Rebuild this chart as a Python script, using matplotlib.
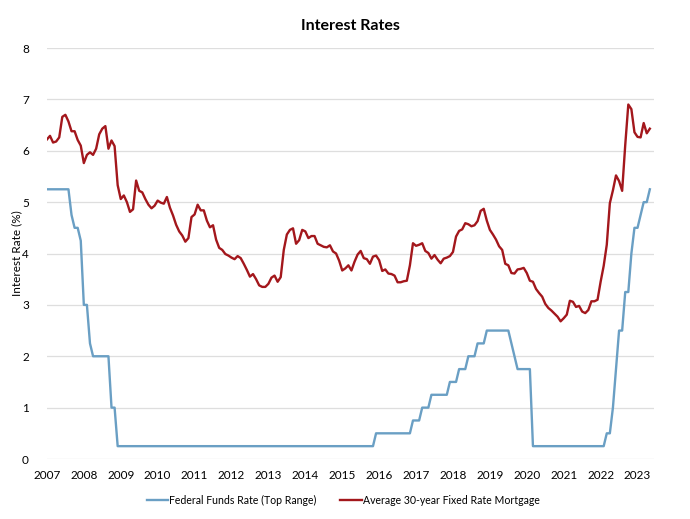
import numpy as np
import matplotlib
matplotlib.use("Agg")
import matplotlib.pyplot as plt

plt.rcParams['font.family'] = ['Lato', 'DejaVu Sans']

# monthly values, Jan 2007 .. May 2023
fed_funds = (
    [5.25] * 8 + [4.75, 4.5, 4.5, 4.25]                                   # 2007
    + [3.0, 3.0, 2.25, 2.0, 2.0, 2.0, 2.0, 2.0, 2.0, 1.0, 1.0, 0.25]      # 2008
    + [0.25] * 12 * 6                                                     # 2009-2014
    + [0.25] * 11 + [0.5]                                                 # 2015
    + [0.5] * 11 + [0.75]                                                 # 2016
    + [0.75, 0.75, 1.0, 1.0, 1.0, 1.25, 1.25, 1.25, 1.25, 1.25, 1.25, 1.5]  # 2017
    + [1.5, 1.5, 1.75, 1.75, 1.75, 2.0, 2.0, 2.0, 2.25, 2.25, 2.25, 2.5]  # 2018
    + [2.5, 2.5, 2.5, 2.5, 2.5, 2.5, 2.5, 2.25, 2.0, 1.75, 1.75, 1.75]   # 2019
    + [1.75, 1.75] + [0.25] * 10                                          # 2020
    + [0.25] * 12                                                         # 2021
    + [0.25, 0.25, 0.5, 0.5, 1.0, 1.75, 2.5, 2.5, 3.25, 3.25, 4.0, 4.5]   # 2022
    + [4.5, 4.75, 5.0, 5.0, 5.25]                                         # 2023
)

mortgage = [
    6.22, 6.29, 6.16, 6.18, 6.26, 6.66, 6.70, 6.57, 6.38, 6.38, 6.21, 6.10,
    5.76, 5.92, 5.97, 5.92, 6.04, 6.32, 6.43, 6.48, 6.04, 6.20, 6.09, 5.33,
    5.06, 5.13, 5.00, 4.81, 4.86, 5.42, 5.22, 5.19, 5.06, 4.95, 4.88, 4.93,
    5.03, 4.99, 4.97, 5.10, 4.89, 4.74, 4.56, 4.43, 4.35, 4.23, 4.30, 4.71,
    4.76, 4.95, 4.84, 4.84, 4.64, 4.51, 4.55, 4.27, 4.11, 4.07, 3.99, 3.96,
    3.92, 3.89, 3.95, 3.91, 3.80, 3.68, 3.55, 3.60, 3.50, 3.38, 3.35, 3.35,
    3.41, 3.53, 3.57, 3.45, 3.54, 4.07, 4.37, 4.46, 4.49, 4.19, 4.26, 4.46,
    4.43, 4.30, 4.34, 4.34, 4.19, 4.16, 4.13, 4.12, 4.16, 4.04, 4.00, 3.86,
    3.67, 3.71, 3.77, 3.67, 3.84, 3.98, 4.05, 3.91, 3.89, 3.80, 3.94, 3.96,
    3.87, 3.66, 3.69, 3.61, 3.60, 3.57, 3.44, 3.44, 3.46, 3.47, 3.77, 4.20,
    4.15, 4.17, 4.20, 4.05, 4.01, 3.90, 3.97, 3.88, 3.81, 3.90, 3.92, 3.95,
    4.03, 4.33, 4.44, 4.47, 4.59, 4.57, 4.53, 4.55, 4.63, 4.83, 4.87, 4.64,
    4.46, 4.37, 4.27, 4.14, 4.07, 3.80, 3.77, 3.62, 3.61, 3.69, 3.70, 3.72,
    3.62, 3.47, 3.45, 3.31, 3.23, 3.16, 3.02, 2.94, 2.89, 2.83, 2.77, 2.68,
    2.74, 2.81, 3.08, 3.06, 2.96, 2.98, 2.87, 2.84, 2.90, 3.07, 3.07, 3.10,
    3.45, 3.76, 4.17, 4.98, 5.23, 5.52, 5.41, 5.22, 6.11, 6.90, 6.81, 6.36,
    6.27, 6.26, 6.54, 6.34, 6.43,
]

years = list(range(2007, 2024))
x = 2007 + np.arange(len(mortgage)) / 12

fig = plt.figure(figsize=(6.9, 5.19), dpi=100)
ax = fig.add_axes([0.068, 0.1156, 0.8795, 0.7919])

ax.plot(x, fed_funds, color='#6a9fc4', lw=1.7, label='Federal Funds Rate (Top Range)')
ax.plot(x, mortgage, color='#a3171c', lw=1.7, label='Average 30-year Fixed Rate Mortgage')

ax.set_xlim(2007, 2023.44)
ax.set_ylim(0, 8)
ax.set_xticks(years)
ax.set_yticks(range(0, 9))
ax.tick_params(length=0, labelsize=8.5)
ax.tick_params(axis='y', pad=13)
ax.tick_params(axis='x', pad=8)
ax.grid(axis='y', color='#dedede', lw=0.9)
ax.set_axisbelow(True)
for s in ax.spines.values():
    s.set_visible(False)

ax.set_ylabel('Interest Rate (%)', fontsize=8.5, labelpad=0)
ax.set_title('Interest Rates', fontsize=11.5, fontweight='bold', pad=13)
ax.legend(loc='center', bbox_to_anchor=(0.488, -0.10), ncol=2, frameon=False,
          fontsize=7.6, handlelength=2.0, handletextpad=0.1, columnspacing=2.3)

plt.savefig('out.png', dpi=100)
